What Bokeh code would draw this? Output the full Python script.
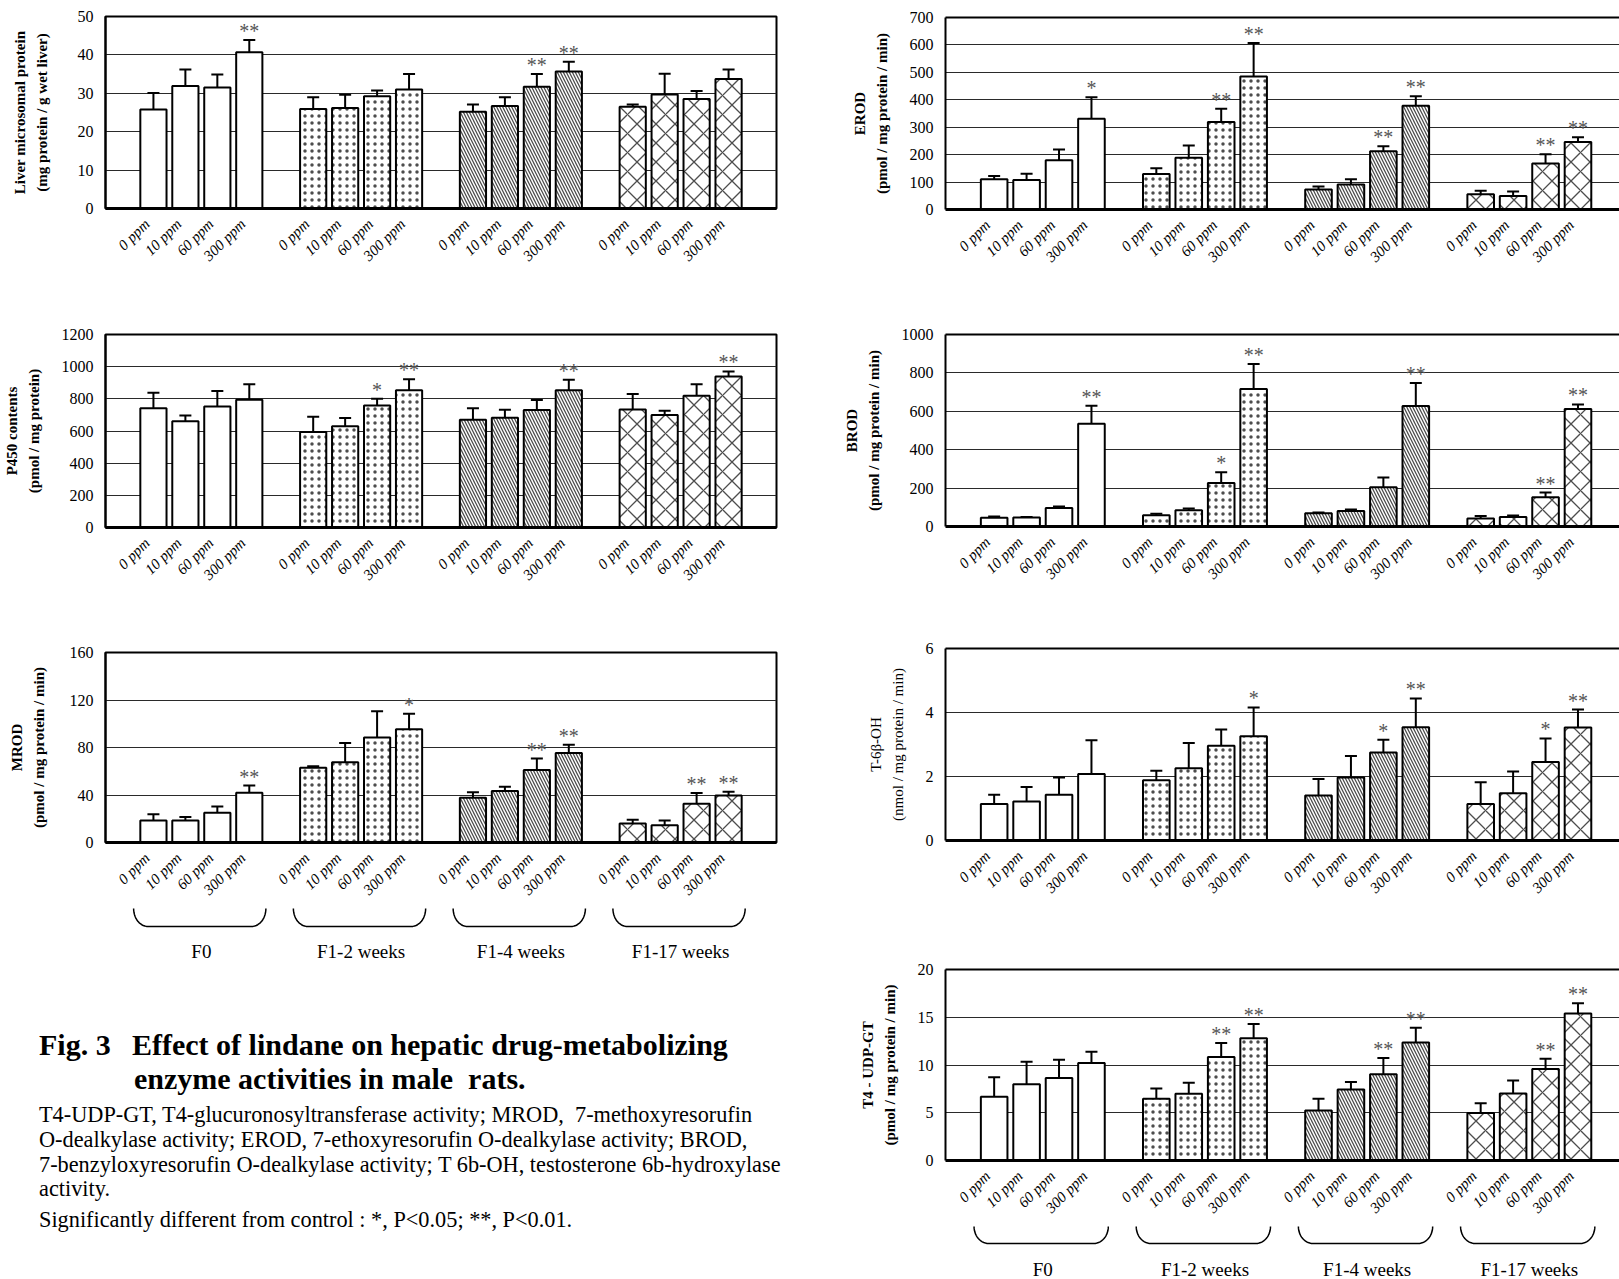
import html
import math

from bokeh.core.properties import value
from bokeh.embed import file_html
from bokeh.layouts import column, row
from bokeh.models import ColumnDataSource, Div, FixedTicker, LinearAxis, Range1d, TeeHead, Whisker
from bokeh.plotting import figure
from bokeh.resources import INLINE

FONT = "Liberation Serif"

# ---- categories -------------------------------------------------------------
groups = ["F0", "F1-2 weeks", "F1-4 weeks", "F1-17 weeks"]
doses = ["0 ppm", "10 ppm", "60 ppm", "300 ppm"]
group_hatch = [" ", ".", "\\", "x"]
group_hatch_scale = [12, 7, 6, 19]
group_hatch_weight = [1.0, 1.0, 1.3, 1.3]

# ---- series: mean, SD and significance marks (order: group x dose) ---------
liver_mean = [25.8, 31.9, 31.5, 40.7, 25.9, 26.2, 29.2, 31.0, 25.2, 26.7, 31.7, 35.7, 26.5, 29.7, 28.5, 33.7]
liver_sd = [4.3, 4.3, 3.4, 3.2, 3.1, 3.4, 1.5, 4.0, 1.9, 2.3, 3.3, 2.5, 0.6, 5.4, 2.1, 2.5]
liver_sig = ["", "", "", "**", "", "", "", "", "", "", "**", "**", "", "", "", ""]

p450_mean = [741, 660, 753, 794, 594, 629, 759, 854, 670, 683, 730, 854, 734, 699, 819, 939]
p450_sd = [97, 37, 95, 96, 95, 52, 42, 67, 71, 49, 62, 65, 96, 27, 71, 31]
p450_sig = ["", "", "", "", "", "", "*", "**", "", "", "", "**", "", "", "", "**"]

mrod_mean = [18.6, 18.6, 25.0, 42.0, 62.9, 67.6, 88.5, 95.4, 37.6, 43.4, 61.0, 75.4, 15.9, 14.5, 32.6, 39.5]
mrod_sd = [5.1, 2.8, 5.3, 6.0, 1.4, 16.2, 22.0, 13.1, 4.7, 3.6, 9.7, 7.0, 3.3, 4.1, 9.1, 3.3]
mrod_sig = ["", "", "", "**", "", "", "", "*", "", "", "**", "**", "", "", "**", "**"]

erod_mean = [110, 108, 180, 331, 129, 189, 319, 485, 73, 91, 212, 378, 56, 49, 168, 246]
erod_sd = [12, 22, 39, 78, 21, 44, 48, 122, 11, 19, 19, 35, 12, 17, 33, 17]
erod_sig = ["", "", "", "*", "", "", "**", "**", "", "", "**", "**", "", "", "**", "**"]

brod_mean = [45, 47, 97, 535, 59, 85, 227, 716, 69, 81, 204, 627, 42, 49, 152, 612]
brod_sd = [7, 2, 7, 94, 7, 9, 55, 130, 4, 7, 51, 120, 13, 8, 25, 24]
brod_sig = ["", "", "", "**", "", "", "*", "**", "", "", "", "**", "", "", "**", "**"]

t6b_mean = [1.14, 1.22, 1.43, 2.08, 1.88, 2.26, 2.96, 3.26, 1.41, 1.97, 2.75, 3.54, 1.14, 1.48, 2.45, 3.53]
t6b_sd = [0.29, 0.45, 0.54, 1.05, 0.30, 0.79, 0.51, 0.90, 0.51, 0.67, 0.40, 0.90, 0.68, 0.68, 0.74, 0.56]
t6b_sig = ["", "", "", "", "", "", "", "*", "", "", "*", "**", "", "", "*", "**"]

t4_mean = [6.67, 7.99, 8.65, 10.2, 6.46, 6.98, 10.83, 12.8, 5.24, 7.43, 9.03, 12.36, 4.97, 7.01, 9.58, 15.38]
t4_sd = [2.05, 2.36, 1.91, 1.2, 1.07, 1.15, 1.47, 1.5, 1.22, 0.8, 1.7, 1.54, 1.03, 1.36, 1.08, 1.08]
t4_sig = ["", "", "", "", "", "", "**", "**", "", "", "**", "**", "", "", "**", "**"]

caption_title = ["Fig. 3", "Effect of lindane on hepatic drug-metabolizing", "enzyme activities in male  rats."]
caption_body = [
    "T4-UDP-GT, T4-glucuronosyltransferase activity; MROD,  7-methoxyresorufin",
    "O-dealkylase activity; EROD, 7-ethoxyresorufin O-dealkylase activity; BROD,",
    "7-benzyloxyresorufin O-dealkylase activity; T 6b-OH, testosterone 6b-hydroxylase",
    "activity.",
    "Significantly different from control : *, P<0.05; **, P<0.01.",
]

# slot index of every bar: four bars per group, one empty slot between groups
XS = [g * 5 + d for g in range(len(groups)) for d in range(len(doses))]
HATCH = [group_hatch[g] for g in range(len(groups)) for _ in doses]
HSCALE = [group_hatch_scale[g] for g in range(len(groups)) for _ in doses]
HWEIGHT = [group_hatch_weight[g] for g in range(len(groups)) for _ in doses]
GROUP_CENTERS = [g * 5 + 1.5 for g in range(len(groups))]

# dose labels sit a little left of their bar (their upper end leans on the bar)
LABEL_SHIFT = 0.2
LABEL_TICKS = [x - LABEL_SHIFT for x in XS]
DOSE_LABELS = {t: doses[i % len(doses)] for i, t in enumerate(LABEL_TICKS)}


def bar_panel(mean, sd, sig, ymax, ystep, ylabel, label_style, width, height,
              frame_left, frame_top, frame_h, right_pad, x_end, closed, label_gap=17):
    bottom = height - frame_top - frame_h
    p = figure(width=width, height=height, x_range=Range1d(-1.5, x_end),
               y_range=Range1d(0, ymax), output_backend="svg", toolbar_location=None,
               min_border_left=frame_left, min_border_right=right_pad,
               min_border_top=frame_top, min_border_bottom=bottom)
    p.background_fill_color = "white"
    p.border_fill_color = "white"

    src = ColumnDataSource(dict(
        x=XS, mean=mean, upper=[m + s for m, s in zip(mean, sd)], sig=sig,
        hatch=HATCH, hs=HSCALE, hw=HWEIGHT,
    ))
    p.vbar(x="x", top="mean", bottom=0, width=0.82, source=src,
           fill_color="white", line_color="black", line_width=2,
           hatch_pattern="hatch", hatch_scale="hs", hatch_color="#4d4d4d",
           hatch_weight="hw")
    p.add_layout(Whisker(source=src, base="x", lower="mean", upper="upper",
                         dimension="height", line_color="black", line_width=2,
                         lower_head=None,
                         upper_head=TeeHead(size=12, line_width=2, line_color="black")))
    p.text(x="x", y="upper", text="sig", source=src, text_align="center",
           text_baseline="bottom", y_offset=2, text_font=value(FONT),
           text_font_size="20px", text_color="#555555")

    yticks = list(range(0, ymax + 1, ystep))
    p.yaxis.ticker = FixedTicker(ticks=yticks)
    p.ygrid.ticker = FixedTicker(ticks=yticks)
    p.ygrid.grid_line_color = "#2a2a2a"
    p.ygrid.grid_line_width = 1
    p.xgrid.visible = False

    p.yaxis.axis_label = ylabel
    p.yaxis.axis_label_text_font = FONT
    p.yaxis.axis_label_text_font_size = "15px"
    p.yaxis.axis_label_text_font_style = label_style
    p.yaxis.axis_label_text_color = "black"
    p.yaxis.axis_label_text_line_height = 1.35
    p.yaxis.axis_label_standoff = label_gap
    p.yaxis.major_label_text_font = FONT
    p.yaxis.major_label_text_font_size = "16px"
    p.yaxis.major_label_text_color = "black"
    p.yaxis.major_label_standoff = 12
    p.yaxis.major_tick_line_color = None
    p.yaxis.major_tick_out = 0
    p.yaxis.major_tick_in = 0
    p.yaxis.minor_tick_line_color = None
    p.yaxis.axis_line_width = 2
    p.yaxis.axis_line_color = "black"

    p.xaxis.ticker = FixedTicker(ticks=LABEL_TICKS)
    p.xaxis.major_label_overrides = DOSE_LABELS
    p.xaxis.major_label_orientation = math.pi / 4
    p.xaxis.major_label_text_font = FONT
    p.xaxis.major_label_text_font_style = "italic"
    p.xaxis.major_label_text_font_size = "15px"
    p.xaxis.major_label_text_color = "black"
    p.xaxis.major_label_standoff = 13
    p.xaxis.major_tick_line_color = None
    p.xaxis.major_tick_out = 0
    p.xaxis.major_tick_in = 0
    p.xaxis.minor_tick_line_color = None
    p.xaxis.axis_line_width = 3
    p.xaxis.axis_line_color = "black"

    if closed:
        p.outline_line_color = "black"
        p.outline_line_width = 2
        p.outline_line_alpha = 1
    else:
        p.outline_line_color = None
        top_axis = LinearAxis(ticker=FixedTicker(ticks=[]), major_label_text_font_size="0px",
                              major_tick_line_color=None, minor_tick_line_color=None,
                              major_tick_out=0, major_tick_in=0,
                              axis_line_width=2, axis_line_color="black")
        p.add_layout(top_axis, "above")
    return p


def brace_panel(x_range, width, height, frame_left, right_pad, top, bot, label_y):
    b = figure(width=width, height=height, x_range=x_range, y_range=Range1d(height, 0),
               x_axis_type=None, y_axis_type=None, output_backend="svg",
               toolbar_location=None, min_border_left=frame_left,
               min_border_right=right_pad, min_border_top=0, min_border_bottom=0)
    b.outline_line_color = None
    b.grid.visible = False
    rx = 0.45
    xs, ys = [], []
    for g in range(len(groups)):
        x0 = g * 5 - 0.62
        x1 = g * 5 + 3.52
        n = 14
        px, py = [], []
        for k in range(n + 1):
            t = (math.pi / 2) * k / n
            px.append(x0 + rx * (1 - math.cos(t)))
            py.append(top + (bot - top) * math.sin(t))
        for k in range(n + 1):
            t = (math.pi / 2) * (n - k) / n
            px.append(x1 - rx * (1 - math.cos(t)))
            py.append(top + (bot - top) * math.sin(t))
        xs.append(px)
        ys.append(py)
    b.multi_line(xs=xs, ys=ys, line_color="black", line_width=1.5)
    b.text(x=GROUP_CENTERS, y=[label_y] * len(groups), text=groups, text_align="center",
           text_baseline="middle", text_font=value(FONT), text_font_size="19px",
           text_color="black")
    return b


def caption_block(width, height):
    items = [
        (caption_title[0], 39, 80, 30, "bold"),
        (caption_title[1], 132, 80, 30, "bold"),
        (caption_title[2], 134, 114, 30, "bold"),
    ]
    for txt, y in zip(caption_body, [150, 175, 200, 224, 255]):
        items.append((txt, 39, y, 22.3, "normal"))
    spans = "".join(
        f'<span style="position:absolute;left:{x}px;top:{y}px;line-height:0;'
        f'white-space:pre;font-size:{fs}px;font-weight:{fw};">{html.escape(t)}</span>'
        for t, x, y, fs, fw in items
    )
    body = (f'<div style="position:relative;width:{width}px;height:{height}px;'
            f"font-family:'{FONT}';color:#000;\">{spans}</div>")
    return Div(text=body, width=width, height=height,
               styles={"margin": "0", "padding": "0"})


# ---- left column --------------------------------------------------------------
LW = 820
L_LEFT, L_RIGHT = 98, 44
liver = bar_panel(liver_mean, liver_sd, liver_sig, 50, 10,
                  "Liver microsomal protein\n(mg protein / g wet liver)", "bold",
                  LW, 300, L_LEFT, 16, 192, L_RIGHT, 19.5, True, label_gap=25)
p450 = bar_panel(p450_mean, p450_sd, p450_sig, 1200, 200,
                 "P450 contents\n(pmol / mg protein)", "bold",
                 LW, 320, L_LEFT, 34, 193, L_RIGHT, 19.5, True)
mrod = bar_panel(mrod_mean, mrod_sd, mrod_sig, 160, 40,
                 "MROD\n(pmol / mg protein / min)", "bold",
                 LW, 286, L_LEFT, 32, 192, L_RIGHT, 19.5, True, label_gap=20)
left_brace = brace_panel(mrod.x_range, LW, 59, L_LEFT, L_RIGHT, 2, 20, 45)
cap = caption_block(LW, 314)

# ---- right column -------------------------------------------------------------
RW = 799
R_LEFT = 125
erod = bar_panel(erod_mean, erod_sd, erod_sig, 700, 100,
                 "EROD\n(pmol / mg protein / min)", "bold",
                 RW, 300, R_LEFT, 17, 192, 0, 19.28, False)
brod = bar_panel(brod_mean, brod_sd, brod_sig, 1000, 200,
                 "BROD\n(pmol / mg protein / min)", "bold",
                 RW, 320, R_LEFT, 34, 192, 0, 19.28, False)
t6b = bar_panel(t6b_mean, t6b_sd, t6b_sig, 6, 2,
                "T-6\u03b2-OH\n(nmol / mg protein / min)", "normal",
                RW, 320, R_LEFT, 28, 192, 0, 19.28, False)
t4 = bar_panel(t4_mean, t4_sd, t4_sig, 20, 5,
               "T4 - UDP-GT\n(pmol / mg protein / min)", "bold",
               RW, 284, R_LEFT, 29, 192, 0, 19.28, False)
right_brace = brace_panel(t4.x_range, RW, 55, R_LEFT, 0, 2, 19, 45)

layout = row(
    column(liver, p450, mrod, left_brace, cap, spacing=0),
    column(erod, brod, t6b, t4, right_brace, spacing=0),
    spacing=0,
)

open("out.html", "w").write(file_html(layout, INLINE))
